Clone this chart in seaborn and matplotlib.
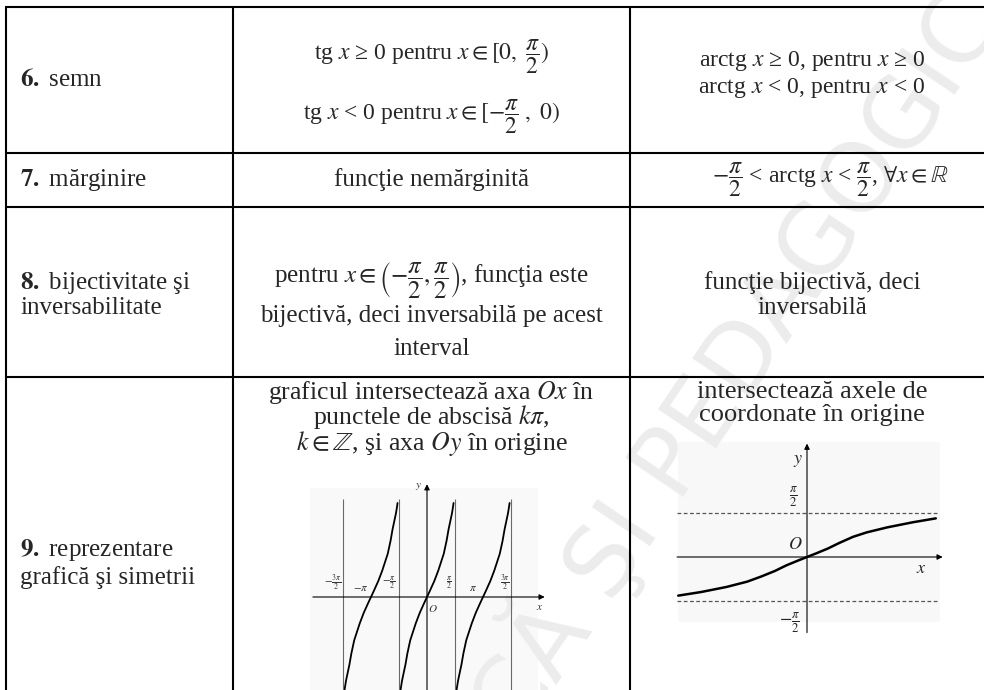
import numpy as np
import pandas as pd
import seaborn as sns
import matplotlib.pyplot as plt
from matplotlib.patches import Rectangle

sns.set_theme(style="white")
plt.rcParams['font.family'] = ['Liberation Serif', 'DejaVu Sans']
plt.rcParams['mathtext.fontset'] = 'stix'

W, H = 984, 690

# grila tabelului (pixeli)
col_x = [6, 233, 630]
row_y = [7, 153, 207, 377]

# tg x - o ramura (dx fata de centrul ramurii, in rad)
tg_dx = [-1.49, -1.46, -1.40, -1.30, -1.21, -1.10, -0.94, -0.63, -0.41, -0.16, 0.0,
         0.16, 0.41, 0.63, 0.94, 1.10, 1.21, 1.30, 1.40, 1.46, 1.49]
tg_y = [-4.0, -3.84, -3.56, -3.2, -2.88, -2.4, -1.84, -1.12, -0.68, -0.26, 0.0,
        0.26, 0.68, 1.12, 1.84, 2.4, 2.88, 3.2, 3.56, 3.84, 4.0]
tg_centres = [-np.pi, 0.0, np.pi]
tg_asymptotes = [-3 * np.pi / 2, -np.pi / 2, np.pi / 2, 3 * np.pi / 2]
tg_tick_pos = [-3 * np.pi / 2, -np.pi, -np.pi / 2, np.pi / 2, np.pi, 3 * np.pi / 2]
tg_ticks = [r'$-\frac{3\pi}{2}$', r'$-\pi$', r'$-\frac{\pi}{2}$', r'$\frac{\pi}{2}$', r'$\pi$', r'$\frac{3\pi}{2}$']

# arctg x
atan_x = [-5.6, -4.6, -3.5, -2.6, -2.0, -1.4, -0.9, -0.4, 0.0, 0.4, 0.9, 1.4, 2.0, 2.6, 3.5, 4.6, 5.6]
atan_y = [-1.38, -1.25, -1.07, -0.88, -0.70, -0.50, -0.30, -0.13, 0.0, 0.13, 0.30, 0.50, 0.72, 0.88, 1.06, 1.24, 1.38]
atan_lim = np.pi / 2

fig = plt.figure(figsize=(9.84, 6.9), dpi=100)
ax = fig.add_axes([0, 0, 1, 1])
ax.set_xlim(0, W)
ax.set_ylim(H, 0)
ax.axis('off')

# fundal usor gri al figurilor scanate
ax.add_patch(Rectangle((310, 488), 228, 202, color='#f9f9f9', lw=0, zorder=0))
ax.add_patch(Rectangle((678, 442), 262, 180, color='#f8f8f8', lw=0, zorder=0))

# watermark
ax.text(640, 500, 'DIDACTICĂ ŞI PEDAGOGICĂ', rotation=56, ha='center', va='center',
        fontsize=70, color='#ececec', family='DejaVu Sans', zorder=1)

# linii tabel
for y in row_y:
    ax.plot([col_x[0] - 1, W], [y, y], color='black', lw=1.5, solid_capstyle='butt', zorder=2)
for x in col_x:
    ax.plot([x, x], [row_y[0], H], color='black', lw=1.5, solid_capstyle='butt', zorder=2)

c2 = (col_x[1] + col_x[2]) / 2
c3 = 812


def t(x, y, s, ha='center', fs=18, **kw):
    ax.text(x, y, s, ha=ha, va='center', fontsize=fs, zorder=3, **kw)


# 6. semn
t(20, 80, r'$\mathbf{6.}$ semn', ha='left')
t(c2, 57, r'tg $x$ ≥ 0 pentru $x \in [0,\ \dfrac{\pi}{2})$', fs=17)
t(c2, 117, r'tg $x$ < 0 pentru $x \in [-\dfrac{\pi}{2}\ ,\ 0)$', fs=17)
t(c3, 61, r'arctg $x$ ≥ 0, pentru $x$ ≥ 0', fs=17)
t(c3, 88, r'arctg $x$ < 0, pentru $x$ < 0', fs=17)

# 7. marginire
t(20, 180, r'$\mathbf{7.}$ mărginire', ha='left')
t(c2, 180, 'funcţie nemărginită')
t(830, 180, r'$-\dfrac{\pi}{2}$ < arctg $x$ < $\dfrac{\pi}{2}$, $\forall x \in \mathbb{R}$', fs=17)

# 8. bijectivitate
t(20, 283, r'$\mathbf{8.}$ bijectivitate şi', ha='left')
t(20, 308, 'inversabilitate', ha='left')
t(c2, 280, r'pentru $x \in \left(-\dfrac{\pi}{2}, \dfrac{\pi}{2}\right)$, funcţia este')
t(c2, 316, 'bijectivă, deci inversabilă pe acest')
t(c2, 349, 'interval')
t(c3, 283, 'funcţie bijectivă, deci')
t(c3, 308, 'inversabilă')

# 9. reprezentare grafica
t(20, 550, r'$\mathbf{9.}$ reprezentare', ha='left')
t(20, 578, 'grafică şi simetrii', ha='left')
t(c2, 392, r'graficul intersectează axa $Ox$ în', fs=18.5)
t(c2, 417, r'punctele de abscisă $k\pi$,', fs=18.5)
t(c2, 443, r'$k \in \mathbb{Z}$, şi axa $Oy$ în origine', fs=18.5)
t(c3, 392, 'intersectează axele de', fs=19)
t(c3, 415, 'coordonate în origine', fs=19)


def px_axes(x0, y0, x1, y1):
    a = fig.add_axes([x0 / W, 1 - y1 / H, (x1 - x0) / W, (y1 - y0) / H])
    a.patch.set_alpha(0)
    return a


arrow = dict(arrowstyle='-|>', color='black', lw=0.8, mutation_scale=8, shrinkA=0, shrinkB=0)
lab = dict(ha='center', va='center', color='#333')

# graficul tg
kx, ky, ox, oy = 17.83, 23.5, 427, 597
tax = px_axes(305, 478, 550, 690)
df_tg = pd.concat([pd.DataFrame({'x': c + np.array(tg_dx), 'y': tg_y, 'ramura': i})
                   for i, c in enumerate(tg_centres)])
sns.lineplot(data=df_tg, x='x', y='y', units='ramura', estimator=None, sort=False,
             color='black', lw=1.3, ax=tax)
tax.vlines(tg_asymptotes, -4.0, 4.15, color='#6a6a6a', lw=0.8)
tax.annotate('', xy=(6.6, 0), xytext=(-6.4, 0), arrowprops=arrow)
tax.annotate('', xy=(0, 4.8), xytext=(0, -4.0), arrowprops=arrow)
for p, s in zip(tg_tick_pos, tg_ticks):
    if abs(abs(p) - np.pi) < 0.1:
        tax.text(p - 0.55, 0.35, s, fontsize=8, **lab)
    else:
        tax.text(p - 0.55 if p < 0 else p - 0.35, 0.6, s, fontsize=8, **lab)
tax.text(0.35, -0.5, '$O$', fontsize=8, **lab)
tax.text(-0.45, 4.7, '$y$', fontsize=8, **lab)
tax.text(6.3, -0.45, '$x$', fontsize=8, **lab)
tax.set_xlim((305 - ox) / kx, (550 - ox) / kx)
tax.set_ylim((oy - 690) / ky, (oy - 478) / ky)
tax.axis('off')

# graficul arctg
kx, ky, ox, oy = 23.0, 28.0, 807, 557
aax = px_axes(672, 440, 948, 640)
df_at = pd.DataFrame({'x': atan_x, 'y': atan_y})
sns.lineplot(data=df_at, x='x', y='y', estimator=None, sort=False, color='black', lw=1.8, ax=aax)
aax.hlines([atan_lim, -atan_lim], -5.65, 5.65, color='#555', lw=0.9, linestyles=(0, (3, 2)))
aax.annotate('', xy=(5.9, 0), xytext=(-5.65, 0), arrowprops=arrow)
aax.annotate('', xy=(0, 4.05), xytext=(0, -2.7), arrowprops=arrow)
aax.text(-0.6, 2.15, r'$\frac{\pi}{2}$', fontsize=13, ha='center', va='center')
aax.text(-0.75, -2.35, r'$-\frac{\pi}{2}$', fontsize=13, ha='center', va='center')
aax.text(-0.5, 0.45, '$O$', fontsize=13, ha='center', va='center')
aax.text(4.95, -0.4, '$x$', fontsize=13, ha='center', va='center')
aax.text(-0.4, 3.45, '$y$', fontsize=13, ha='center', va='center')
aax.set_xlim((672 - ox) / kx, (948 - ox) / kx)
aax.set_ylim((oy - 640) / ky, (oy - 440) / ky)
aax.axis('off')

fig.savefig('out.png', dpi=100)
